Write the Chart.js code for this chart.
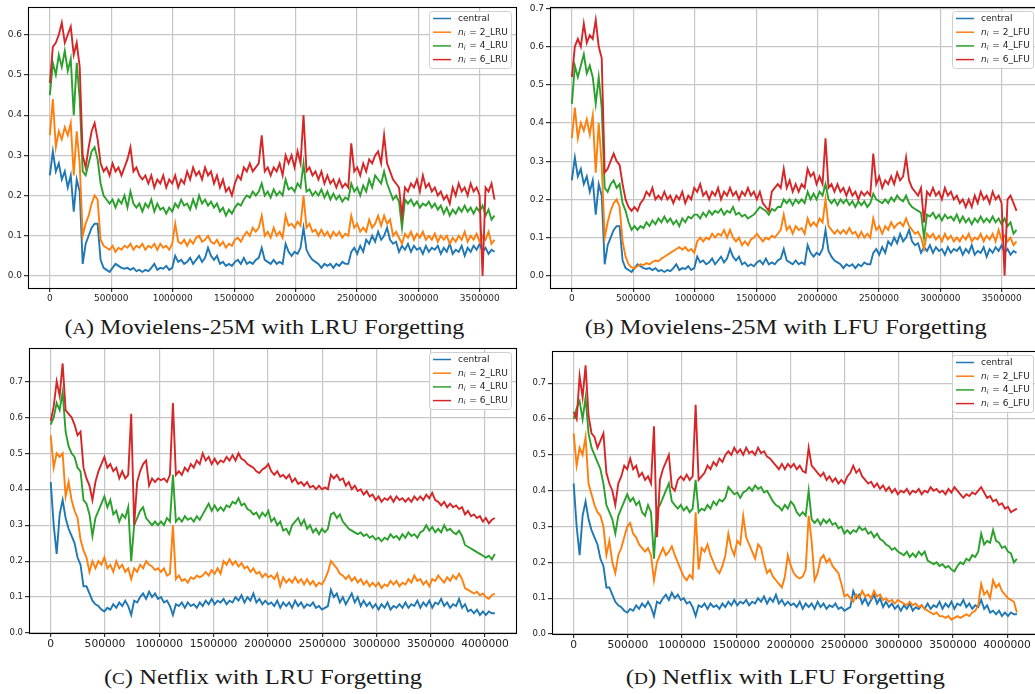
<!DOCTYPE html>
<html>
<head>
<meta charset="utf-8">
<script src="https://cdn.jsdelivr.net/npm/chart.js"></script>
<style>
  body { margin: 0; background: #fff; width: 1035px; height: 694px; position: relative; overflow: hidden; }
  canvas { position: absolute; }
  .cap { position: absolute; font-family: "Liberation Serif", "DejaVu Serif", serif; font-size: 21px; line-height: 21px;
         color: #1a1a1a; white-space: nowrap; transform-origin: center center; }
  .sc { font-size: 0.78em; }
</style>
</head>
<body>
<canvas id="chartA" width="520" height="305" style="left:0;top:0"></canvas>
<canvas id="chartB" width="522" height="305" style="left:520px;top:0"></canvas>
<canvas id="chartC" width="520" height="315" style="left:0;top:340px"></canvas>
<canvas id="chartD" width="522" height="315" style="left:520px;top:340px"></canvas>

<div class="cap" data-cx="264" data-w="400" style="top:317px">(<span class="sc">A</span>) Movielens-25M with LRU Forgetting</div>
<div class="cap" data-cx="786" data-w="402" style="top:317px">(<span class="sc">B</span>) Movielens-25M with LFU Forgetting</div>
<div class="cap" data-cx="263" data-w="318" style="top:667px">(<span class="sc">C</span>) Netflix with LRU Forgetting</div>
<div class="cap" data-cx="785" data-w="319" style="top:667px">(<span class="sc">D</span>) Netflix with LFU Forgetting</div>

<script>
// tick labels
const xTicksMovie = [0, 500000, 1000000, 1500000, 2000000, 2500000, 3000000, 3500000];
const yTicksMovieA = [0, 0.1, 0.2, 0.3, 0.4, 0.5, 0.6];
const yTicksMovieB = [0, 0.1, 0.2, 0.3, 0.4, 0.5, 0.6, 0.7];
const xTicksNetflix = [0, 500000, 1000000, 1500000, 2000000, 2500000, 3000000, 3500000, 4000000];
const yTicksNetflix = [0, 0.1, 0.2, 0.3, 0.4, 0.5, 0.6, 0.7];

// last sample position of each run
const movieEnd = 3620000;
const netflixEnd = 4090000;

const seriesNames = ['central', 'n_i = 2', 'n_i = 4', 'n_i = 6'];
const colors = ['#1f77b4', '#ff7f0e', '#2ca02c', '#d62728'];

// Movielens-25M, sampled evenly from 0 to movieEnd
const centralMovie = [
  0.25,0.31,0.26,0.28,0.24,0.26,0.22,0.25,0.16,0.24,
  0.21,0.03,0.08,0.10,0.12,0.13,0.13,0.04,0.02,0.015,
  0.01,0.02,0.03,0.025,0.02,0.018,0.02,0.015,0.02,0.012,
  0.015,0.01,0.015,0.012,0.02,0.03,0.015,0.02,0.018,0.025,
  0.015,0.02,0.05,0.035,0.04,0.03,0.035,0.045,0.03,0.04,
  0.05,0.035,0.045,0.07,0.05,0.04,0.05,0.03,0.035,0.025,
  0.03,0.025,0.035,0.04,0.03,0.045,0.03,0.035,0.03,0.04,
  0.045,0.07,0.04,0.035,0.03,0.04,0.03,0.035,0.03,0.08,
  0.06,0.05,0.06,0.055,0.07,0.12,0.065,0.05,0.04,0.035,
  0.03,0.02,0.03,0.025,0.03,0.02,0.03,0.025,0.035,0.03,
  0.03,0.06,0.07,0.055,0.075,0.06,0.09,0.08,0.10,0.085,
  0.11,0.09,0.10,0.12,0.09,0.08,0.085,0.06,0.075,0.065,
  0.08,0.06,0.075,0.065,0.07,0.055,0.075,0.06,0.07,0.065,
  0.075,0.055,0.07,0.06,0.08,0.055,0.065,0.06,0.075,0.05,
  0.07,0.06,0.075,0.065,0.08,0.06,0.07,0.055,0.065,0.06
];
const lru2Movie = [
  0.35,0.44,0.32,0.36,0.34,0.37,0.35,0.38,0.25,0.36,
  0.28,0.10,0.13,0.15,0.18,0.20,0.19,0.09,0.075,0.07,
  0.065,0.075,0.06,0.07,0.065,0.075,0.07,0.08,0.065,0.075,
  0.07,0.08,0.065,0.075,0.07,0.08,0.065,0.08,0.07,0.075,
  0.065,0.08,0.13,0.085,0.08,0.09,0.075,0.09,0.08,0.095,
  0.1,0.085,0.09,0.1,0.085,0.08,0.09,0.075,0.085,0.07,
  0.08,0.075,0.09,0.095,0.085,0.1,0.11,0.1,0.12,0.11,
  0.12,0.15,0.1,0.11,0.095,0.12,0.1,0.11,0.095,0.15,
  0.125,0.13,0.12,0.135,0.125,0.2,0.12,0.13,0.11,0.115,
  0.1,0.115,0.1,0.11,0.095,0.11,0.1,0.11,0.095,0.105,
  0.1,0.15,0.12,0.13,0.11,0.12,0.11,0.14,0.12,0.13,
  0.15,0.125,0.15,0.13,0.14,0.1,0.11,0.095,0.08,0.105,
  0.095,0.11,0.09,0.105,0.095,0.11,0.09,0.1,0.09,0.105,
  0.085,0.1,0.09,0.1,0.08,0.095,0.085,0.1,0.09,0.11,
  0.085,0.1,0.09,0.105,0.085,0.1,0.09,0.11,0.08,0.09
];
const lru4Movie = [
  0.45,0.53,0.5,0.55,0.52,0.56,0.51,0.54,0.40,0.53,
  0.44,0.26,0.25,0.28,0.31,0.32,0.29,0.23,0.2,0.19,
  0.18,0.19,0.17,0.19,0.18,0.2,0.17,0.21,0.18,0.17,
  0.18,0.16,0.18,0.17,0.19,0.16,0.18,0.165,0.17,0.155,
  0.17,0.16,0.18,0.17,0.19,0.175,0.18,0.165,0.19,0.17,
  0.2,0.18,0.19,0.175,0.185,0.17,0.18,0.16,0.17,0.15,
  0.165,0.155,0.17,0.18,0.175,0.19,0.2,0.195,0.21,0.2,
  0.21,0.23,0.2,0.21,0.195,0.215,0.2,0.21,0.2,0.24,
  0.215,0.22,0.21,0.23,0.22,0.28,0.21,0.215,0.2,0.21,
  0.2,0.215,0.195,0.21,0.19,0.205,0.19,0.2,0.185,0.195,
  0.19,0.23,0.21,0.22,0.2,0.225,0.21,0.24,0.22,0.25,
  0.24,0.23,0.26,0.23,0.21,0.19,0.2,0.185,0.12,0.19,
  0.18,0.19,0.175,0.185,0.17,0.18,0.175,0.185,0.17,0.18,
  0.165,0.175,0.155,0.17,0.15,0.165,0.155,0.17,0.16,0.175,
  0.16,0.17,0.155,0.17,0.16,0.175,0.15,0.165,0.14,0.15
];
const lru6Movie = [
  0.48,0.57,0.58,0.6,0.63,0.58,0.6,0.62,0.55,0.58,
  0.52,0.3,0.27,0.32,0.36,0.38,0.34,0.28,0.26,0.27,
  0.25,0.28,0.26,0.27,0.25,0.27,0.29,0.32,0.26,0.27,
  0.25,0.24,0.25,0.23,0.25,0.22,0.24,0.23,0.25,0.22,
  0.24,0.23,0.25,0.22,0.24,0.23,0.26,0.24,0.27,0.25,
  0.26,0.24,0.27,0.25,0.26,0.23,0.25,0.22,0.24,0.21,
  0.22,0.2,0.23,0.25,0.24,0.27,0.26,0.28,0.26,0.27,
  0.28,0.35,0.26,0.27,0.25,0.27,0.26,0.28,0.25,0.3,
  0.28,0.3,0.27,0.31,0.28,0.4,0.26,0.27,0.25,0.26,
  0.24,0.26,0.23,0.25,0.23,0.24,0.22,0.24,0.22,0.23,
  0.22,0.33,0.26,0.27,0.25,0.28,0.26,0.29,0.28,0.3,
  0.31,0.28,0.35,0.28,0.26,0.24,0.23,0.22,0.15,0.22,
  0.21,0.23,0.22,0.24,0.21,0.25,0.22,0.23,0.21,0.22,
  0.2,0.21,0.19,0.2,0.18,0.22,0.2,0.23,0.21,0.22,
  0.2,0.23,0.21,0.22,0.2,0.0,0.22,0.21,0.23,0.19
];
const lfu2Movie = [
  0.36,0.44,0.36,0.4,0.38,0.41,0.37,0.42,0.27,0.4,
  0.29,0.1,0.14,0.17,0.19,0.2,0.18,0.09,0.05,0.03,
  0.022,0.02,0.025,0.03,0.028,0.033,0.03,0.036,0.04,0.038,
  0.045,0.05,0.055,0.06,0.065,0.07,0.075,0.068,0.075,0.065,
  0.07,0.06,0.09,0.1,0.09,0.1,0.095,0.11,0.1,0.11,
  0.105,0.12,0.1,0.12,0.1,0.09,0.1,0.08,0.09,0.08,
  0.095,0.1,0.11,0.1,0.09,0.1,0.095,0.105,0.1,0.11,
  0.12,0.16,0.12,0.13,0.11,0.13,0.12,0.125,0.11,0.15,
  0.13,0.14,0.13,0.15,0.14,0.2,0.13,0.12,0.11,0.12,
  0.11,0.12,0.11,0.125,0.11,0.115,0.1,0.115,0.1,0.11,
  0.1,0.15,0.12,0.13,0.11,0.13,0.12,0.14,0.125,0.135,
  0.14,0.13,0.15,0.13,0.12,0.11,0.115,0.1,0.07,0.11,
  0.1,0.11,0.095,0.105,0.09,0.11,0.095,0.105,0.09,0.1,
  0.09,0.105,0.095,0.11,0.09,0.1,0.095,0.11,0.09,0.105,
  0.095,0.11,0.09,0.12,0.095,0.105,0.09,0.1,0.08,0.09
];
const lfu4Movie = [
  0.45,0.55,0.52,0.55,0.58,0.53,0.55,0.52,0.45,0.52,
  0.44,0.23,0.22,0.24,0.25,0.23,0.24,0.19,0.17,0.14,
  0.12,0.13,0.12,0.13,0.125,0.14,0.13,0.145,0.135,0.15,
  0.14,0.155,0.14,0.15,0.135,0.145,0.13,0.15,0.14,0.155,
  0.15,0.16,0.16,0.15,0.165,0.155,0.17,0.16,0.17,0.165,
  0.175,0.16,0.17,0.165,0.18,0.16,0.165,0.155,0.16,0.15,
  0.155,0.16,0.17,0.18,0.175,0.17,0.16,0.175,0.17,0.18,
  0.18,0.2,0.19,0.2,0.185,0.2,0.19,0.2,0.19,0.22,
  0.2,0.215,0.2,0.22,0.21,0.24,0.2,0.19,0.2,0.185,
  0.2,0.19,0.2,0.185,0.195,0.18,0.195,0.185,0.195,0.18,
  0.19,0.215,0.2,0.195,0.19,0.2,0.19,0.205,0.195,0.21,
  0.2,0.195,0.21,0.19,0.18,0.175,0.17,0.165,0.1,0.16,
  0.155,0.165,0.15,0.16,0.145,0.16,0.15,0.155,0.145,0.16,
  0.14,0.155,0.14,0.15,0.135,0.15,0.14,0.155,0.14,0.15,
  0.14,0.155,0.14,0.15,0.135,0.15,0.13,0.14,0.11,0.12
];
const lfu6Movie = [
  0.52,0.6,0.62,0.6,0.66,0.61,0.63,0.62,0.67,0.6,
  0.57,0.27,0.28,0.3,0.32,0.3,0.29,0.24,0.2,0.18,
  0.17,0.18,0.17,0.19,0.2,0.22,0.21,0.23,0.2,0.21,
  0.2,0.22,0.2,0.21,0.19,0.21,0.2,0.22,0.19,0.21,
  0.2,0.23,0.22,0.24,0.21,0.22,0.2,0.22,0.21,0.23,
  0.2,0.22,0.21,0.23,0.21,0.22,0.2,0.22,0.21,0.23,
  0.21,0.22,0.2,0.22,0.19,0.18,0.17,0.22,0.23,0.24,
  0.23,0.28,0.23,0.25,0.22,0.24,0.22,0.24,0.23,0.28,
  0.26,0.27,0.24,0.26,0.24,0.36,0.23,0.24,0.22,0.24,
  0.22,0.23,0.21,0.23,0.21,0.22,0.2,0.22,0.21,0.22,
  0.21,0.32,0.24,0.26,0.23,0.25,0.24,0.26,0.24,0.27,
  0.25,0.26,0.31,0.25,0.23,0.22,0.21,0.23,0.14,0.22,
  0.21,0.23,0.21,0.22,0.2,0.23,0.21,0.22,0.2,0.21,
  0.19,0.2,0.18,0.2,0.18,0.21,0.19,0.22,0.2,0.21,
  0.19,0.22,0.2,0.21,0.19,0.0,0.2,0.21,0.19,0.17
];

// Netflix, sampled evenly from 0 to netflixEnd
const centralNetflix = [
  0.42,0.3,0.22,0.33,0.37,0.32,0.29,0.27,0.25,0.21,
  0.19,0.13,0.13,0.11,0.09,0.08,0.075,0.065,0.06,0.07,
  0.065,0.08,0.07,0.085,0.075,0.09,0.075,0.05,0.09,0.085,
  0.1,0.11,0.095,0.115,0.1,0.11,0.095,0.1,0.085,0.09,
  0.075,0.05,0.08,0.075,0.085,0.07,0.085,0.075,0.08,0.07,
  0.085,0.075,0.09,0.08,0.095,0.08,0.09,0.085,0.095,0.08,
  0.09,0.085,0.1,0.09,0.105,0.085,0.1,0.09,0.11,0.085,
  0.095,0.08,0.09,0.08,0.085,0.075,0.09,0.07,0.085,0.075,
  0.085,0.07,0.09,0.075,0.085,0.07,0.08,0.075,0.085,0.07,
  0.075,0.065,0.07,0.075,0.12,0.1,0.11,0.085,0.1,0.08,
  0.095,0.11,0.085,0.1,0.075,0.09,0.075,0.085,0.07,0.08,
  0.065,0.08,0.07,0.085,0.065,0.075,0.07,0.08,0.07,0.085,
  0.07,0.08,0.075,0.09,0.07,0.085,0.075,0.09,0.07,0.085,
  0.08,0.095,0.075,0.085,0.07,0.08,0.075,0.095,0.07,0.08,
  0.06,0.065,0.055,0.065,0.05,0.06,0.05,0.06,0.055,0.055
];
const lru2Netflix = [
  0.55,0.46,0.5,0.49,0.5,0.38,0.42,0.37,0.34,0.32,
  0.26,0.23,0.21,0.17,0.2,0.18,0.2,0.19,0.21,0.18,
  0.19,0.17,0.2,0.18,0.19,0.17,0.18,0.15,0.18,0.17,
  0.19,0.18,0.2,0.19,0.185,0.175,0.18,0.17,0.18,0.16,
  0.165,0.3,0.15,0.16,0.145,0.15,0.14,0.155,0.15,0.16,
  0.155,0.16,0.17,0.16,0.175,0.165,0.18,0.165,0.2,0.19,
  0.205,0.19,0.2,0.185,0.195,0.18,0.185,0.17,0.18,0.165,
  0.17,0.155,0.165,0.155,0.16,0.15,0.165,0.13,0.155,0.14,
  0.15,0.14,0.155,0.14,0.15,0.135,0.15,0.135,0.145,0.13,
  0.14,0.135,0.15,0.17,0.2,0.19,0.18,0.165,0.16,0.15,
  0.16,0.145,0.155,0.14,0.15,0.135,0.145,0.13,0.14,0.13,
  0.14,0.125,0.135,0.13,0.145,0.135,0.145,0.13,0.14,0.135,
  0.15,0.14,0.16,0.145,0.15,0.135,0.145,0.13,0.15,0.145,
  0.16,0.15,0.14,0.155,0.145,0.16,0.15,0.165,0.15,0.125,
  0.12,0.115,0.11,0.115,0.105,0.11,0.1,0.095,0.105,0.11
];
const lru4Netflix = [
  0.58,0.6,0.64,0.62,0.67,0.56,0.52,0.5,0.49,0.46,
  0.45,0.37,0.36,0.33,0.27,0.32,0.34,0.36,0.38,0.35,
  0.37,0.33,0.34,0.31,0.33,0.32,0.35,0.2,0.3,0.32,
  0.34,0.35,0.32,0.31,0.3,0.31,0.3,0.31,0.3,0.32,
  0.31,0.44,0.31,0.32,0.31,0.325,0.315,0.32,0.31,0.325,
  0.315,0.33,0.345,0.36,0.34,0.355,0.34,0.35,0.34,0.355,
  0.35,0.365,0.36,0.375,0.355,0.36,0.345,0.34,0.33,0.335,
  0.32,0.335,0.325,0.34,0.31,0.32,0.3,0.31,0.285,0.29,
  0.275,0.3,0.31,0.32,0.3,0.315,0.29,0.3,0.28,0.29,
  0.275,0.29,0.28,0.29,0.33,0.335,0.32,0.33,0.31,0.3,
  0.29,0.285,0.28,0.275,0.28,0.27,0.275,0.265,0.27,0.26,
  0.265,0.255,0.265,0.26,0.275,0.265,0.27,0.26,0.275,0.265,
  0.28,0.27,0.275,0.265,0.28,0.285,0.3,0.285,0.295,0.28,
  0.29,0.28,0.3,0.285,0.29,0.28,0.275,0.285,0.27,0.245,
  0.24,0.235,0.23,0.225,0.22,0.215,0.21,0.215,0.205,0.22
];
const lru6Netflix = [
  0.59,0.63,0.7,0.66,0.75,0.62,0.61,0.6,0.58,0.55,
  0.56,0.46,0.43,0.41,0.37,0.42,0.45,0.47,0.49,0.46,
  0.47,0.45,0.46,0.43,0.45,0.43,0.44,0.61,0.3,0.42,
  0.45,0.47,0.48,0.41,0.43,0.42,0.43,0.425,0.43,0.42,
  0.44,0.64,0.44,0.45,0.44,0.46,0.45,0.47,0.46,0.48,
  0.47,0.5,0.48,0.49,0.47,0.485,0.47,0.48,0.475,0.49,
  0.48,0.495,0.48,0.5,0.485,0.48,0.47,0.465,0.46,0.45,
  0.445,0.455,0.46,0.47,0.45,0.44,0.45,0.435,0.44,0.43,
  0.44,0.42,0.43,0.415,0.42,0.41,0.42,0.405,0.41,0.4,
  0.41,0.4,0.405,0.4,0.44,0.43,0.44,0.425,0.43,0.41,
  0.42,0.4,0.41,0.395,0.4,0.385,0.395,0.38,0.385,0.37,
  0.38,0.365,0.375,0.37,0.38,0.365,0.38,0.37,0.375,0.365,
  0.375,0.365,0.38,0.37,0.38,0.37,0.385,0.375,0.39,0.37,
  0.365,0.355,0.365,0.35,0.36,0.35,0.355,0.345,0.35,0.33,
  0.34,0.325,0.33,0.32,0.325,0.31,0.32,0.305,0.315,0.32
];
const lfu2Netflix = [
  0.56,0.47,0.52,0.5,0.55,0.42,0.39,0.36,0.34,0.33,
  0.3,0.22,0.26,0.2,0.17,0.22,0.24,0.27,0.3,0.31,
  0.28,0.27,0.25,0.24,0.23,0.24,0.22,0.15,0.2,0.22,
  0.24,0.22,0.23,0.245,0.22,0.2,0.18,0.16,0.15,0.165,
  0.155,0.34,0.18,0.24,0.23,0.25,0.22,0.2,0.18,0.17,
  0.19,0.22,0.28,0.24,0.22,0.26,0.25,0.33,0.27,0.25,
  0.23,0.21,0.25,0.24,0.2,0.17,0.18,0.16,0.15,0.14,
  0.13,0.16,0.22,0.19,0.17,0.16,0.155,0.16,0.18,0.33,
  0.26,0.15,0.17,0.21,0.22,0.2,0.21,0.19,0.18,0.17,
  0.14,0.105,0.11,0.1,0.09,0.11,0.1,0.12,0.105,0.11,
  0.1,0.12,0.105,0.11,0.095,0.1,0.09,0.095,0.085,0.095,
  0.09,0.085,0.08,0.09,0.08,0.085,0.075,0.08,0.07,0.065,
  0.06,0.055,0.06,0.05,0.05,0.045,0.05,0.04,0.045,0.05,
  0.045,0.05,0.055,0.05,0.06,0.065,0.08,0.14,0.11,0.12,
  0.1,0.15,0.13,0.14,0.12,0.11,0.1,0.095,0.09,0.06
];
const lfu4Netflix = [
  0.6,0.63,0.65,0.6,0.66,0.56,0.52,0.5,0.48,0.46,
  0.42,0.36,0.34,0.32,0.28,0.33,0.35,0.37,0.39,0.37,
  0.38,0.36,0.37,0.34,0.33,0.36,0.34,0.21,0.35,0.36,
  0.38,0.4,0.42,0.37,0.36,0.35,0.36,0.345,0.355,0.34,
  0.35,0.43,0.34,0.35,0.345,0.36,0.35,0.37,0.36,0.375,
  0.37,0.38,0.41,0.4,0.39,0.395,0.38,0.395,0.4,0.41,
  0.4,0.415,0.405,0.41,0.395,0.4,0.385,0.37,0.36,0.355,
  0.345,0.36,0.35,0.37,0.36,0.34,0.33,0.34,0.33,0.4,
  0.32,0.31,0.32,0.305,0.32,0.31,0.32,0.305,0.31,0.295,
  0.3,0.28,0.29,0.28,0.29,0.285,0.3,0.29,0.295,0.28,
  0.285,0.27,0.28,0.265,0.26,0.25,0.245,0.235,0.24,0.23,
  0.225,0.22,0.23,0.215,0.225,0.215,0.23,0.22,0.23,0.205,
  0.2,0.195,0.2,0.19,0.195,0.185,0.19,0.18,0.175,0.19,
  0.2,0.195,0.21,0.205,0.22,0.215,0.23,0.28,0.25,0.26,
  0.255,0.29,0.26,0.255,0.24,0.245,0.23,0.225,0.2,0.21
];
const lfu6Netflix = [
  0.62,0.6,0.72,0.66,0.75,0.61,0.56,0.55,0.52,0.54,
  0.56,0.45,0.42,0.4,0.36,0.42,0.44,0.47,0.46,0.49,
  0.46,0.47,0.44,0.45,0.43,0.44,0.42,0.58,0.27,0.43,
  0.46,0.48,0.5,0.41,0.4,0.43,0.44,0.43,0.445,0.43,
  0.44,0.64,0.43,0.44,0.45,0.47,0.46,0.48,0.47,0.49,
  0.48,0.5,0.51,0.5,0.52,0.505,0.515,0.5,0.52,0.505,
  0.51,0.5,0.52,0.505,0.51,0.495,0.49,0.48,0.47,0.46,
  0.475,0.46,0.475,0.465,0.475,0.46,0.47,0.455,0.45,0.52,
  0.47,0.46,0.45,0.44,0.45,0.43,0.44,0.425,0.435,0.42,
  0.43,0.42,0.44,0.45,0.47,0.45,0.46,0.44,0.43,0.42,
  0.425,0.41,0.42,0.405,0.415,0.4,0.41,0.395,0.405,0.39,
  0.4,0.395,0.405,0.39,0.4,0.395,0.405,0.39,0.4,0.395,
  0.41,0.4,0.405,0.395,0.4,0.39,0.405,0.395,0.41,0.4,
  0.39,0.38,0.39,0.385,0.395,0.39,0.4,0.41,0.395,0.38,
  0.385,0.37,0.375,0.36,0.365,0.35,0.355,0.34,0.345,0.35
];

// draws "n_i = 2_LRU" with an italic n and subscript i, like mathtext
function labelParts(label) {
  const m = label.match(/^n_i = (.*)$/);
  return m ? m[1] : null;
}
function labelWidth(ctx, label, size) {
  const rest = labelParts(label);
  if (rest === null) { ctx.font = size + 'px "DejaVu Sans"'; return ctx.measureText(label).width; }
  ctx.font = 'italic ' + size + 'px "DejaVu Sans"';
  let w = ctx.measureText('n').width;
  ctx.font = 'italic ' + (size * 0.7) + 'px "DejaVu Sans"';
  w += ctx.measureText('i').width + 1;
  ctx.font = size + 'px "DejaVu Sans"';
  return w + ctx.measureText(' = ' + rest).width;
}
function drawLabel(ctx, label, x, y, size) {
  const rest = labelParts(label);
  if (rest === null) {
    ctx.font = size + 'px "DejaVu Sans"';
    ctx.fillText(label, x, y);
    return;
  }
  ctx.font = 'italic ' + size + 'px "DejaVu Sans"';
  ctx.fillText('n', x, y);
  x += ctx.measureText('n').width;
  ctx.font = 'italic ' + (size * 0.7) + 'px "DejaVu Sans"';
  ctx.fillText('i', x, y + size * 0.25);
  x += ctx.measureText('i').width + 1;
  ctx.font = size + 'px "DejaVu Sans"';
  ctx.fillText(' = ' + rest, x, y);
}

const framePlugin = {
  id: 'frame',
  afterDatasetsDraw(chart) {
    const { ctx, chartArea: a } = chart;
    ctx.save();
    ctx.strokeStyle = '#000';
    ctx.lineWidth = 1.1;
    ctx.strokeRect(Math.round(a.left) + 0.5, Math.round(a.top) + 0.5,
                   Math.round(a.right - a.left), Math.round(a.bottom - a.top));
    ctx.restore();
  }
};

const legendPlugin = {
  id: 'boxLegend',
  afterDraw(chart) {
    const { ctx, chartArea: a } = chart;
    const sets = chart.data.datasets;
    const size = 9;
    ctx.save();
    let w = 0;
    sets.forEach(d => { w = Math.max(w, labelWidth(ctx, d.label, size)); });
    const bw = Math.round(w + 32), bh = 57;
    const bx = Math.round(a.right - 5 - bw), by = Math.round(a.top + 4);
    ctx.fillStyle = 'rgba(255,255,255,0.85)';
    ctx.strokeStyle = '#cfcfcf';
    ctx.lineWidth = 1;
    ctx.beginPath();
    ctx.roundRect(bx + 0.5, by + 0.5, bw, bh, 3);
    ctx.fill();
    ctx.stroke();
    ctx.textBaseline = 'middle';
    sets.forEach((d, k) => {
      const y = by + 7.5 + k * 13.7;
      ctx.strokeStyle = d.borderColor;
      ctx.lineWidth = 1.5;
      ctx.beginPath();
      ctx.moveTo(bx + 4, y);
      ctx.lineTo(bx + 22, y);
      ctx.stroke();
      ctx.fillStyle = '#222';
      drawLabel(ctx, d.label, bx + 29, y, size);
    });
    ctx.restore();
  }
};

function makeChart(id, p) {
  const datasets = p.series.map((values, k) => ({
    label: k === 0 ? seriesNames[0] : seriesNames[k] + '_' + p.policy,
    data: values.map((v, i) => ({ x: i * p.end / (values.length - 1), y: v })),
    borderColor: colors[k],
    borderWidth: 1.9,
    borderJoinStyle: 'miter',
    pointRadius: 0,
    tension: 0,
    order: 3 - k
  }));
  new Chart(document.getElementById(id), {
    type: 'line',
    data: { datasets },
    options: {
      responsive: false,
      animation: false,
      events: [],
      layout: { padding: p.pad },
      plugins: { legend: { display: false }, tooltip: { enabled: false } },
      scales: {
        x: {
          type: 'linear',
          min: p.xMin, max: p.xMax,
          afterBuildTicks: s => { s.ticks = p.xTicks.map(v => ({ value: v })); },
          afterFit: s => { s.height = p.xh; },
          ticks: { callback: v => String(v), font: { family: 'DejaVu Sans', size: p.xFont },
                   color: '#222', maxRotation: 0, minRotation: 0, autoSkip: false, padding: 1 },
          grid: { color: '#c6c6c6', lineWidth: 1.2, tickLength: 4, tickColor: '#333' },
          border: { display: false }
        },
        y: {
          min: p.yMin, max: p.yMax,
          afterBuildTicks: s => { s.ticks = p.yTicks.map(v => ({ value: v })); },
          afterFit: s => { s.width = p.yw; },
          ticks: { callback: v => v.toFixed(1), font: { family: 'DejaVu Sans', size: p.yFont },
                   color: '#222', padding: 2 },
          grid: { color: '#c6c6c6', lineWidth: 1.2, tickLength: 4, tickColor: '#333' },
          border: { display: false }
        }
      }
    },
    plugins: [framePlugin, legendPlugin]
  });
}

makeChart('chartA', {
  series: [centralMovie, lru2Movie, lru4Movie, lru6Movie], policy: 'LRU', end: movieEnd,
  xMin: -178000, xMax: 3795000, yMin: -0.030, yMax: 0.668,
  xTicks: xTicksMovie, yTicks: yTicksMovieA,
  pad: { top: 3, right: 4, left: 0, bottom: 0 }, xh: 17, yw: 28, xFont: 9, yFont: 9
});
makeChart('chartB', {
  series: [centralMovie, lfu2Movie, lfu4Movie, lfu6Movie], policy: 'LFU', end: movieEnd,
  xMin: -178000, xMax: 3795000, yMin: -0.032, yMax: 0.7026,
  xTicks: xTicksMovie, yTicks: yTicksMovieB,
  pad: { top: 3, right: 4, left: 0, bottom: 0 }, xh: 17, yw: 30, xFont: 9, yFont: 9
});
makeChart('chartC', {
  series: [centralNetflix, lru2Netflix, lru4Netflix, lru6Netflix], policy: 'LRU', end: netflixEnd,
  xMin: -200000, xMax: 4285000, yMin: 0, yMax: 0.793,
  xTicks: xTicksNetflix, yTicks: yTicksNetflix,
  pad: { top: 8, right: 4, left: 0, bottom: 0 }, xh: 22, yw: 29, xFont: 10.7, yFont: 8.5
});
makeChart('chartD', {
  series: [centralNetflix, lfu2Netflix, lfu4Netflix, lfu6Netflix], policy: 'LFU', end: netflixEnd,
  xMin: -200000, xMax: 4285000, yMin: 0, yMax: 0.79,
  xTicks: xTicksNetflix, yTicks: yTicksNetflix,
  pad: { top: 11, right: 4, left: 0, bottom: 0 }, xh: 21, yw: 32, xFont: 10.7, yFont: 8.5
});

// captions: centre them and stretch to the measured width
document.querySelectorAll('.cap').forEach(el => {
  const w = el.getBoundingClientRect().width;
  const cx = +el.dataset.cx, target = +el.dataset.w;
  el.style.left = (cx - w / 2) + 'px';
  el.style.transform = 'scaleX(' + (target / w).toFixed(3) + ')';
});
</script>
</body>
</html>
